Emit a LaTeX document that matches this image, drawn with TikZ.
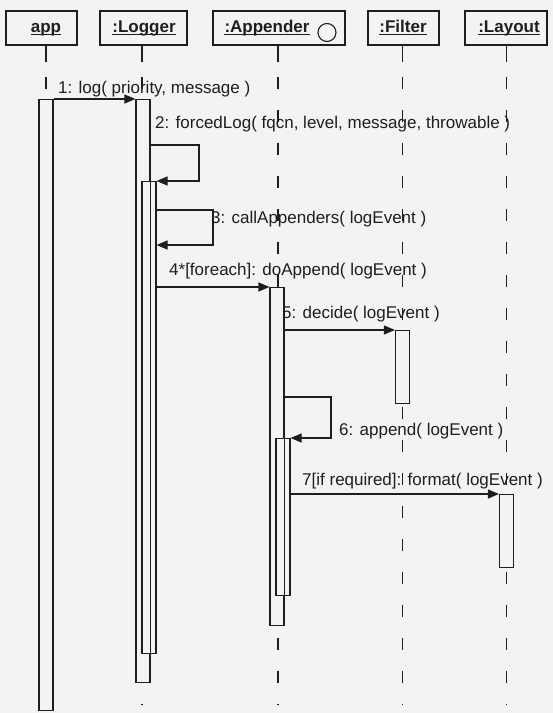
\documentclass[tikz,border=0pt]{standalone}
\usepackage{fontspec}
\setmainfont{Liberation Sans}
\usetikzlibrary{arrows.meta,calc}
\definecolor{bg}{HTML}{F3F3F3}
\definecolor{ink}{HTML}{1E1E1E}
\begin{document}
\begin{tikzpicture}[x=1pt,y=-1pt,
  hbox/.style={draw=ink,line width=1.1pt,fill=bg,minimum height=34pt,inner sep=0},
  htext/.style={font=\fontsize{17}{17}\selectfont\bfseries,text=ink,inner sep=0,anchor=base},
  ul/.style={draw=ink,line width=1.1pt},
  life/.style={draw=ink,line width=1.1pt},
  lifedash/.style={draw=ink,line width=1.1pt,dash pattern=on 12pt off 21pt},
  bar/.style={draw=ink,line width=1.1pt,fill=bg,minimum width=14pt,inner sep=0,anchor=north},
  barline/.style={draw=ink,line width=1.1pt},
  msg/.style={draw=ink,line width=1.1pt,-{Triangle[length=11pt,width=9pt]}},
  lbl/.style={font=\fontsize{17}{17}\selectfont,text=ink,inner sep=0,anchor=base west}]
\fill[bg] (0,0) rectangle (553,713);
\useasboundingbox (0,0) rectangle (553,713);

% header boxes
\node[hbox,minimum width=71pt] (happ) at (41.5,28) {};
\node[hbox,minimum width=87pt] (hlog) at (143.5,28) {};
\node[hbox,minimum width=132pt] (happd) at (279,28) {};
\node[hbox,minimum width=71pt] (hfil) at (403.5,28) {};
\node[hbox,minimum width=82pt] (hlay) at (506,28) {};

\node[htext] (tapp) at (46,32) {app};
\node[htext] (tlog) at (144,32) {:Logger};
\node[htext] (tappd) at (267,32) {:Appender};
\node[htext] (tfil) at (403,32) {:Filter};
\node[htext] (tlay) at (509,32) {:Layout};
\foreach \t in {tapp,tlog,tappd,tfil,tlay}
  \draw[ul] ([yshift=-2.5pt]\t.base west) -- ([yshift=-2.5pt]\t.base east);
\node[draw=ink,line width=1.1pt,circle,minimum size=18pt,inner sep=0] (act) at (327,32.5) {};

% lifelines
\coordinate (Lapp) at (46,705);
\coordinate (Llog) at (142,705);
\coordinate (Lappd) at (278,705);
\coordinate (Lfil) at (402.5,705);
\coordinate (Llay) at (506.5,705);
\foreach \h/\l in {happ/Lapp,hlog/Llog,happd/Lappd,hfil/Lfil,hlay/Llay}{
  \draw[life] (\h.south -| \l) -- ($(\h.south -| \l)+(0,16)$);
  \draw[lifedash] ($(\h.south -| \l)+(0,31)$) -- (\l);
}

% activation bars
\node[bar,minimum height=611pt] (appb) at (46,99) {};
\node[bar,minimum height=583pt] (logo) at (143,99) {};
\node[bar,minimum height=472pt] (logi) at (149,181) {};
\draw[barline] (logo.north east |- logi.north) -- (logo.north east |- logi.south);
\node[bar,minimum height=338pt] (appo) at (277,287) {};
\node[bar,minimum height=157pt] (appi) at (283,438) {};
\draw[barline] (appo.north east |- appi.north) -- (appo.north east |- appi.south);
\node[bar,minimum height=73pt] (filt) at (402.5,330) {};
\node[bar,minimum height=73pt] (lay) at (506.5,494) {};

% messages
\draw[msg] (appb.north east) -- (logo.north west);
\node[lbl] (m1) at (58,93) {1: log( priority, message )};

\coordinate (l2) at (199,145);
\draw[msg] (logo.east |- l2) -- (l2) |- (logi.north east);
\node[lbl] (m2) at (155,128) {2: forcedLog( fqcn, level, message, throwable )};

\coordinate (l3) at (213,210);
\coordinate (l3b) at (213,245);
\draw[msg] (logi.east |- l3) -- (l3) -- (l3b) -- (logi.east |- l3b);
\node[lbl] (m3) at (211,223) {3: callAppenders( logEvent )};

\draw[msg] (logi.east |- appo.north) -- (appo.north west);
\node[lbl] (m4) at (169,275) {4*[foreach]: doAppend( logEvent )};

\draw[msg] (appo.east |- filt.north) -- (filt.north west);
\node[lbl] (m5) at (282,318) {5: decide( logEvent )};

\coordinate (l6) at (331,397);
\draw[msg] (appo.east |- l6) -- (l6) |- (appi.north east);
\node[lbl] (m6) at (339,435) {6: append( logEvent )};

\draw[msg] (appi.east |- lay.north) -- (lay.north west);
\node[lbl] (m7) at (302,485) {7[if required]: format( logEvent )};
\end{tikzpicture}
\end{document}
